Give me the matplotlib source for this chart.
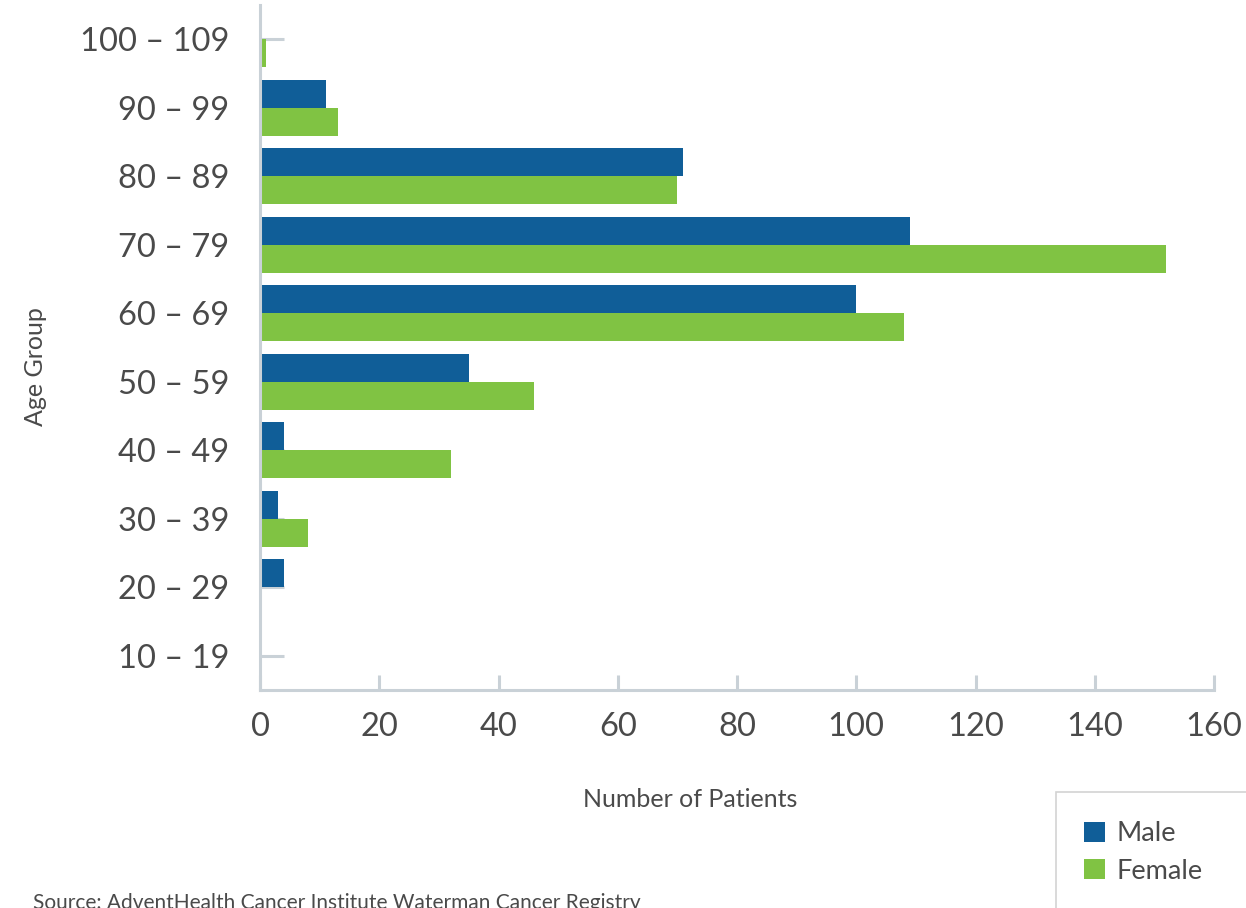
import matplotlib
matplotlib.use("Agg")
import matplotlib.pyplot as plt
from matplotlib.patches import Rectangle
import numpy as np

categories = ["10 – 19", "20 – 29", "30 – 39", "40 – 49", "50 – 59",
              "60 – 69", "70 – 79", "80 – 89", "90 – 99", "100 – 109"]
male = [0, 4, 3, 4, 35, 100, 109, 71, 11, 0]
female = [0, 0, 8, 32, 46, 108, 152, 70, 13, 1]
xticks = [0, 20, 40, 60, 80, 100, 120, 140, 160]

MALE_C = "#105e98"
FEMALE_C = "#80c343"
AXIS_C = "#c9d1d7"
TEXT_C = "#4a4a4a"

plt.rcParams['font.family'] = ['Lato', 'DejaVu Sans']

fig = plt.figure(figsize=(12.46, 9.08), dpi=100)
ax = fig.add_axes([260/1246, 1-690/908, (1214-260)/1246, (690-5)/908])

y = np.arange(len(categories))
h = 0.41
ax.barh(y + h/2, male, height=h, color=MALE_C, label="Male", zorder=3)
ax.barh(y - h/2, female, height=h, color=FEMALE_C, label="Female", zorder=3)

ax.set_xlim(0, 160)
ax.set_ylim(-0.5, 9.5)
ax.set_yticks(y)
ax.set_yticklabels(categories)
ax.set_xticks(xticks)

for s in ["top", "right"]:
    ax.spines[s].set_visible(False)
for s in ["left", "bottom"]:
    ax.spines[s].set_color(AXIS_C)
    ax.spines[s].set_linewidth(2.2)
    ax.spines[s].set_zorder(4)

ax.tick_params(axis="y", direction="in", length=17, width=2.2, color=AXIS_C,
               labelsize=23.5, labelcolor=TEXT_C, pad=22)
ax.tick_params(axis="x", direction="in", length=11, width=2.2, color=AXIS_C,
               labelsize=23.5, labelcolor=TEXT_C, pad=16)
for t in ax.yaxis.get_ticklines():
    t.set_zorder(2)

ax.set_xlabel("Number of Patients", fontsize=18, color=TEXT_C)
ax.set_ylabel("Age Group", fontsize=18, color=TEXT_C)
ax.yaxis.set_label_coords(-(260-47)/954, (690-367)/685)
ax.xaxis.set_label_coords((690-260)/954, -(788-690)/685)

# legend box (extends past the figure edge)
fig.patches.append(Rectangle((1056/1246, -0.2), 0.5, 0.2 + 1 - 792/908,
                             transform=fig.transFigure, facecolor="white",
                             edgecolor="#d3d3d3", linewidth=1.2, zorder=1))
handles, labels = ax.get_legend_handles_labels()
leg = fig.legend(handles, labels, loc="upper left",
                 bbox_to_anchor=(1060/1246, 1-797/908), frameon=False,
                 fontsize=19.5, handlelength=0.75, handleheight=0.75,
                 handletextpad=0.45, labelspacing=0.45, labelcolor=TEXT_C)
leg.set_zorder(5)

fig.text(33/1246, 1-909/908, "Source: AdventHealth Cancer Institute Waterman Cancer Registry",
         fontsize=15, color=TEXT_C, va="baseline", ha="left")

fig.savefig("out.png", dpi=100)
